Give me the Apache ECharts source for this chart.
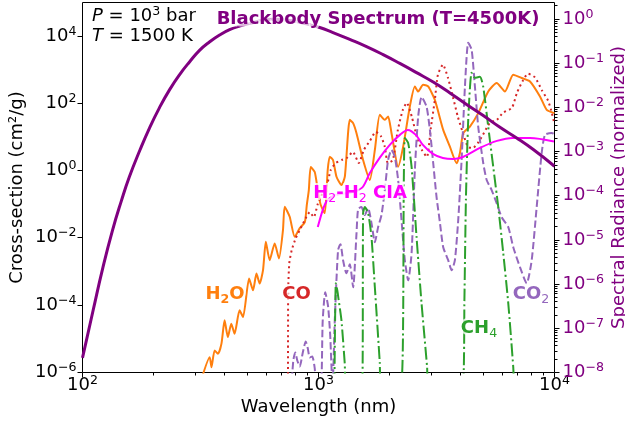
<!DOCTYPE html>
<html>
<head>
<meta charset="utf-8">
<script src="https://cdn.jsdelivr.net/npm/echarts@6/dist/echarts.min.js"></script>
<style>
  html, body { margin: 0; padding: 0; background: #fff; }
  #chart { width: 625px; height: 424px; }
</style>
</head>
<body>
<div id="chart"></div>
<script>
// ---- axis ranges ----
const X_MIN = 100, X_MAX = 10000;
const YL_MIN = 1e-6, YL_MAX = 1e5;
const YR_MIN = 1e-8, YR_MAX = 2.4;

// ---- tick positions ----
const xMajorTicks = [100, 1000, 10000];
const xMinorTicks = [200, 300, 400, 500, 600, 700, 800, 900, 2000, 3000, 4000, 5000, 6000, 7000, 8000, 9000];
const leftMajorTicks = [1e-6, 1e-4, 1e-2, 1, 1e2, 1e4];
const rightMajorTicks = [1e-8, 1e-7, 1e-6, 1e-5, 1e-4, 1e-3, 1e-2, 1e-1, 1];
const rightMinorTicks = [];
for (let e = -8; e <= 0; e++) {
  for (let m = 2; m <= 9; m++) {
    const v = m * Math.pow(10, e);
    if (v <= YR_MAX) rightMinorTicks.push(v);
  }
}

// ---- H2O cross-section (cm^2/g) ----
const h2oWl = [316, 346, 352, 363, 375, 388, 400, 413, 427, 441, 463, 479, 508, 528, 546, 563, 582, 598, 621, 652,
  680, 707, 719, 755, 793, 833, 875, 892, 910, 927, 964, 993, 1022, 1063, 1094, 1116, 1152, 1192, 1251, 1293,
  1357, 1402, 1449, 1545, 1650, 1733, 1819, 1910, 1973, 2039, 2175, 2284, 2438, 2560, 2644, 2776, 2915, 3112, 3376, 3604,
  3847, 3973, 4104, 4381, 4752, 5239, 5686, 6166, 6687, 7259, 7874, 8680, 9268, 10000];
const h2oXs = [5e-7, 2.86e-6, 1.44e-6, 4.53e-6, 3.6e-6, 7.2e-6, 3.55e-5, 1.13e-5, 2.83e-5, 1.42e-5, 7.05e-5, 4.45e-5, 6.2e-4, 2.78e-4, 8.75e-4, 4.4e-4, 1.1e-3, 7.65e-3, 2.18e-3, 6.85e-3,
  2.45e-3, 1.7e-2, 8.45e-2, 4.26e-2, 1.08e-2, 1.96e-2, 2.96e-2, 9.5e-2, 0.266, 1.29, 0.914, 0.266, 0.095, 0.055, 1.05, 2.61, 2.08, 0.662, 0.375, 0.662,
  32.4, 25.9, 13.0, 2.08, 0.528, 4.14, 45.7, 32.4, 40.7, 13.0, 1.31, 5.19, 80.9, 319, 226, 358, 319, 127, 16.3, 5.19,
  1.66, 3.30, 13.0, 20.5, 51.4, 226, 403, 226, 713, 568, 450, 161, 64.4, 51.4];

// ---- CO ----
const coWl = [742, 743, 744, 752, 770, 801, 841, 883, 918, 955, 993, 1032, 1084, 1127, 1184, 1254, 1318, 1398, 1482, 1556,
  1650, 1750, 1837, 1910, 1967, 2065, 2169, 2277, 2367, 2486, 2611, 2742, 2879, 2993, 3112, 3205, 3365, 3533, 3710, 3895,
  4092, 4297, 4512, 4737, 4974, 5325, 5703, 6047, 6601, 6933, 7352, 7720, 8268, 8851, 9385, 9665, 9951];
const coXs = [1e-7, 1.79e-5, 2.78e-4, 1.77e-3, 4.33e-3, 9.86e-3, 1.96e-2, 3.89e-2, 5.87e-2, 4.16e-2, 0.102, 0.189, 0.350, 1.05, 1.69, 2.08, 2.39, 3.61, 1.69, 4.14,
  7.68, 14.2, 10.8, 5.08, 1.69, 2.08, 16.3, 64.4, 104, 39.9, 10.1, 4.14, 2.56, 18.8, 128, 711, 1416, 593, 157, 39.9,
  13.3, 5.08, 4.74, 6.68, 11.6, 26.4, 32.5, 52.5, 74.0, 207, 483, 763, 593, 243, 122, 64.4, 28.2];

// ---- CO2 ----
const co2Wl = [766, 782, 797, 813, 833, 858, 883, 901, 918, 941, 964, 978, 1022, 1042, 1068, 1098, 1121, 1138, 1149, 1172,
  1210, 1239, 1271, 1313, 1357, 1402, 1449, 1472, 1521, 1571, 1623, 1677, 1733, 1789, 1849, 1910, 1972, 2038, 2106, 2175,
  2248, 2322, 2399, 2480, 2560, 2644, 2734, 2871, 2965, 3062, 3164, 3268, 3376, 3544, 3664, 3784, 3909, 4040, 4173, 4309,
  4455, 4601, 4752, 4989, 5159, 5416, 5686, 5970, 6370, 6688, 7140, 7624, 8005, 8404, 8825, 9114, 9729, 9951];
const co2Xs = [2.9e-7, 2.28e-6, 3.94e-6, 2.28e-6, 1.51e-6, 3.94e-6, 8.39e-6, 5.19e-6, 2.80e-6, 3.0e-6, 1.32e-6, 2.9e-7, 2.9e-7, 3.55e-5, 2.42e-4, 9.27e-5, 1.27e-5, 1e-6, 5.8e-7, 3.55e-5,
  4.33e-3, 6.53e-3, 2.18e-3, 8.89e-4, 1.66e-3, 3.41e-4, 1.39e-2, 7.23e-2, 8.28e-2, 4.79e-2, 7.73e-2, 2.76e-2, 7.5e-3, 2.10e-2, 4.79e-2, 0.266, 2.08, 4.14, 2.56, 0.528,
  3.40e-2, 2.18e-3, 5.52e-4, 3.52e-3, 1.05, 39.9, 157, 79.2, 16.3, 1.69, 0.164, 2.96e-2, 5.32e-3, 2.18e-3, 1.10e-3, 2.18e-3, 3.40e-2, 2.08, 313, 6400,
  3960, 313, 20.1, 1.69, 0.528, 0.266, 0.109, 4.17e-2, 2.10e-2, 5.32e-3, 1.35e-3, 4.50e-4, 2.18e-3, 8.28e-2, 3.37, 11.6, 13.3, 12.4];

// ---- CH4 ----
const ch4Wl = [1166, 1184, 1201, 1218, 1251, 1292, 1305,
  1533, 1545, 1571, 1623, 1677, 1733, 1819, 1831,
  2244, 2299, 2322, 2398, 2480, 2603, 2733, 2886, 2901,
  4092, 4152, 4213, 4309, 4455, 4601, 4831, 4989, 5239, 5501, 5777, 6066, 6370, 6688, 6721];
const ch4Xs = [1e-7, 4.5e-4, 2.78e-4, 1.40e-4, 3.55e-5, 1.85e-6, 5.8e-7,
  5.8e-7, 5.48e-2, 8.28e-2, 5.48e-2, 1.06e-2, 3.41e-4, 1.85e-6, 5.8e-7,
  5.8e-7, 0.528, 9.44, 6.70, 1.29, 1.06e-2, 1.14e-4, 1.41e-6, 5.8e-7,
  5.8e-7, 1.4e-4, 0.134, 32.4, 817, 579, 621, 313, 20.1, 1.29, 8.28e-2, 3.52e-3, 1.14e-4, 1.41e-6, 5.8e-7];

// ---- H2-H2 collision-induced absorption ----
const ciaWl = [993, 1042, 1084, 1149, 1231, 1331, 1439, 1540, 1650, 1819, 2005, 2211, 2391, 2585, 2769, 3052, 3365, 3710, 4092, 4831, 5703, 6668, 7874, 9951];
const ciaXs = [2.10e-2, 6.75e-2, 0.125, 0.176, 0.202, 0.216, 0.248, 0.327, 0.853, 2.45, 5.83, 11.6, 16.3, 11.6, 5.83, 3.15, 2.39, 2.23, 2.56, 4.74, 7.68, 9.42, 9.42, 7.41];

// ---- blackbody spectrum, T = 4500 K (normalized radiance) ----
const bbWl = [100, 111, 122, 134, 146, 158, 175, 192, 212, 234, 258, 284, 314, 346, 381, 420, 463, 537, 634, 755,
  875, 1012, 1152, 1357, 1598, 1878, 2211, 2603, 3062, 3604, 4242, 4989, 5873, 6914, 8131, 10000];
const bbRad = [2.14e-8, 2.6e-7, 2.37e-6, 1.66e-5, 7.6e-5, 2.7e-4, 1.08e-3, 3.4e-3, 1.0e-2, 2.55e-2, 5.6e-2, 0.108, 0.200, 0.309, 0.439, 0.580, 0.700, 0.860, 1.0, 0.94,
  0.800, 0.650, 0.500, 0.350, 0.240, 0.158, 0.100, 0.062, 0.0379, 0.0215, 0.0118, 6.61e-3, 3.58e-3, 2.05e-3, 1.12e-3, 4.7e-4];

const FONT = 'DejaVu Sans';
const PURPLE = '#800080';

const pairs = (xs, ys) => xs.map((x, i) => [x, ys[i]]);

// Power-of-ten tick label as rich text: 10 with a raised exponent
function powLabel(v) {
  const e = Math.round(Math.log10(v));
  const s = e < 0 ? '\u2212' + (-e) : String(e);
  return '{b|10}{s|' + s + '}';
}
const TICK_RICH = {
  b: { fontFamily: FONT, fontSize: 18, lineHeight: 22 },
  s: { fontFamily: FONT, fontSize: 12.6, lineHeight: 12, verticalAlign: 'top' }
};

// Tick marks (and optional labels) drawn at axis values through the coordinate system
function tickSeries(values, side, len, withLabel, color, yAxisIndex) {
  return {
    type: 'custom',
    silent: true,
    clip: false,
    animation: false,
    z: 6,
    xAxisIndex: 0,
    yAxisIndex: yAxisIndex,
    data: values.map(v => side === 'bottom' ? [v, YL_MIN] : [side === 'left' ? X_MIN : X_MAX, v]),
    renderItem: function (params, api) {
      const p = api.coord([api.value(0), api.value(1)]);
      const children = [];
      if (side === 'bottom') {
        const x = Math.floor(p[0]) + 0.5;
        children.push({ type: 'line', shape: { x1: x, y1: p[1], x2: x, y2: p[1] + len }, style: { stroke: '#000', lineWidth: 1 } });
        if (withLabel) children.push({ type: 'text', x: x, y: p[1] + 2,
          style: { text: powLabel(api.value(0)), rich: TICK_RICH, align: 'center', verticalAlign: 'top', fill: color } });
      } else if (side === 'left') {
        const y = Math.floor(p[1]) + 0.5;
        children.push({ type: 'line', shape: { x1: p[0], y1: y, x2: p[0] - len, y2: y }, style: { stroke: '#000', lineWidth: 1 } });
        if (withLabel) children.push({ type: 'text', x: p[0] - 6, y: y,
          style: { text: powLabel(api.value(1)), rich: TICK_RICH, align: 'right', verticalAlign: 'middle', fill: color } });
      } else {
        const y = Math.floor(p[1]) + 0.5;
        children.push({ type: 'line', shape: { x1: p[0], y1: y, x2: p[0] + len, y2: y }, style: { stroke: '#000', lineWidth: 1 } });
        if (withLabel) children.push({ type: 'text', x: p[0] + 8, y: y,
          style: { text: powLabel(api.value(1)), rich: TICK_RICH, align: 'left', verticalAlign: 'middle', fill: color } });
      }
      return { type: 'group', children: children };
    }
  };
}

function lineSeries(name, xs, ys, color, width, dash, yAxisIndex, z, smooth) {
  return {
    name: name,
    type: 'line',
    xAxisIndex: 0,
    yAxisIndex: yAxisIndex,
    data: pairs(xs, ys),
    showSymbol: false,
    symbol: 'none',
    smooth: smooth,
    clip: true,
    z: z,
    lineStyle: { color: color, width: width, type: dash, cap: 'butt', join: 'round' }
  };
}

// Annotation text styles
const OUTLINE = { stroke: 'rgba(255,255,255,0.75)', lineWidth: 4 };
const ANNOT_RICH = {
  m: { fontFamily: FONT, fontWeight: 'bold', fontSize: 18, lineHeight: 24 },
  sb: { fontFamily: FONT, fontWeight: 'bold', fontSize: 12.6, lineHeight: 12, verticalAlign: 'bottom' },
  sr: { fontFamily: FONT, fontWeight: 'normal', fontSize: 12.6, lineHeight: 12, verticalAlign: 'bottom' }
};
function annot(x, y, text, color) {
  return {
    type: 'text', x: x, y: y, z: 100, silent: true,
    style: Object.assign({ text: text, rich: ANNOT_RICH, fill: color, align: 'center', verticalAlign: 'middle' }, OUTLINE)
  };
}
const PT_RICH = {
  i: { fontFamily: FONT, fontStyle: 'italic', fontSize: 18, lineHeight: 22 },
  n: { fontFamily: FONT, fontSize: 18, lineHeight: 22 },
  s: { fontFamily: FONT, fontSize: 12.6, lineHeight: 12, verticalAlign: 'top' }
};

const chart = echarts.init(document.getElementById('chart'), null, { renderer: 'canvas' });
chart.setOption({
  animation: false,
  backgroundColor: '#fff',
  grid: {
    left: 82.5, right: 70.5, top: 2.5, bottom: 51.5,
    outerBoundsMode: 'none', containLabel: false,
    show: true, borderColor: '#000', borderWidth: 1
  },
  xAxis: {
    type: 'log', logBase: 10, min: X_MIN, max: X_MAX,
    axisLine: { show: false }, axisTick: { show: false }, axisLabel: { show: false }, splitLine: { show: false },
    name: 'Wavelength (nm)', nameLocation: 'middle', nameGap: 26,
    nameTextStyle: { fontFamily: FONT, fontSize: 18, color: '#000' }
  },
  yAxis: [
    {
      type: 'log', logBase: 10, min: YL_MIN, max: YL_MAX, position: 'left',
      axisLine: { show: false }, axisTick: { show: false }, axisLabel: { show: false }, splitLine: { show: false },
      name: 'Cross-section (cm\u00b2/g)', nameLocation: 'middle', nameGap: 56, nameRotate: 90,
      nameTextStyle: { fontFamily: FONT, fontSize: 18, color: '#000' }
    },
    {
      type: 'log', logBase: 10, min: YR_MIN, max: YR_MAX, position: 'right',
      axisLine: { show: false }, axisTick: { show: false }, axisLabel: { show: false }, splitLine: { show: false },
      name: 'Spectral Radiance (normalized)', nameLocation: 'middle', nameGap: 56, nameRotate: 90,
      nameTextStyle: { fontFamily: FONT, fontSize: 18, color: PURPLE }
    }
  ],
  series: [
    lineSeries('H2O', h2oWl, h2oXs, '#ff7f0e', 2, 'solid', 0, 3, 0.2),
    lineSeries('CO', coWl, coXs, '#d62728', 2, [2, 3.3], 0, 3, 0.2),
    lineSeries('CO2', co2Wl, co2Xs, '#9467bd', 2, [7.4, 3.2], 0, 3, 0.2),
    lineSeries('CH4', ch4Wl, ch4Xs, '#2ca02c', 2, [12.8, 3.2, 2, 3.2], 0, 3, 0.2),
    lineSeries('H2-H2 CIA', ciaWl, ciaXs, '#ff00ff', 2, 'solid', 0, 3, 0.3),
    lineSeries('Blackbody', bbWl, bbRad, PURPLE, 3, 'solid', 1, 4, 0.5),
    tickSeries(xMajorTicks, 'bottom', 5, true, '#000', 0),
    tickSeries(xMinorTicks, 'bottom', 3, false, '#000', 0),
    tickSeries(leftMajorTicks, 'left', 5, true, '#000', 0),
    tickSeries(rightMajorTicks, 'right', 5, true, PURPLE, 1),
    tickSeries(rightMinorTicks, 'right', 3, false, PURPLE, 1)
  ],
  graphic: [
    {
      type: 'text', x: 378, y: 19, z: 100, silent: true,
      style: Object.assign({ text: 'Blackbody Spectrum (T=4500K)', fill: PURPLE, align: 'center', verticalAlign: 'middle',
        font: 'bold 18px "DejaVu Sans"' }, { stroke: 'rgba(255,255,255,0.7)', lineWidth: 5 })
    },
    {
      type: 'text', x: 92, y: 16, z: 100, silent: true,
      style: { text: '{i|P}{n| = 10}{s|3}{n| bar}', rich: PT_RICH, fill: '#000', align: 'left', verticalAlign: 'middle' }
    },
    {
      type: 'text', x: 92, y: 36, z: 100, silent: true,
      style: { text: '{i|T}{n| = 1500 K}', rich: PT_RICH, fill: '#000', align: 'left', verticalAlign: 'middle' }
    },
    annot(225, 294, '{m|H}{sb|2}{m|O}', '#ff7f0e'),
    annot(296.5, 294, '{m|CO}', '#d62728'),
    annot(531, 294, '{m|CO}{sr|2}', '#9467bd'),
    annot(479, 328, '{m|CH}{sr|4}', '#2ca02c'),
    annot(360, 193, '{m|H}{sr|2}{m|-H}{sr|2}{m| CIA}', '#ff00ff')
  ]
});
</script>
</body>
</html>
